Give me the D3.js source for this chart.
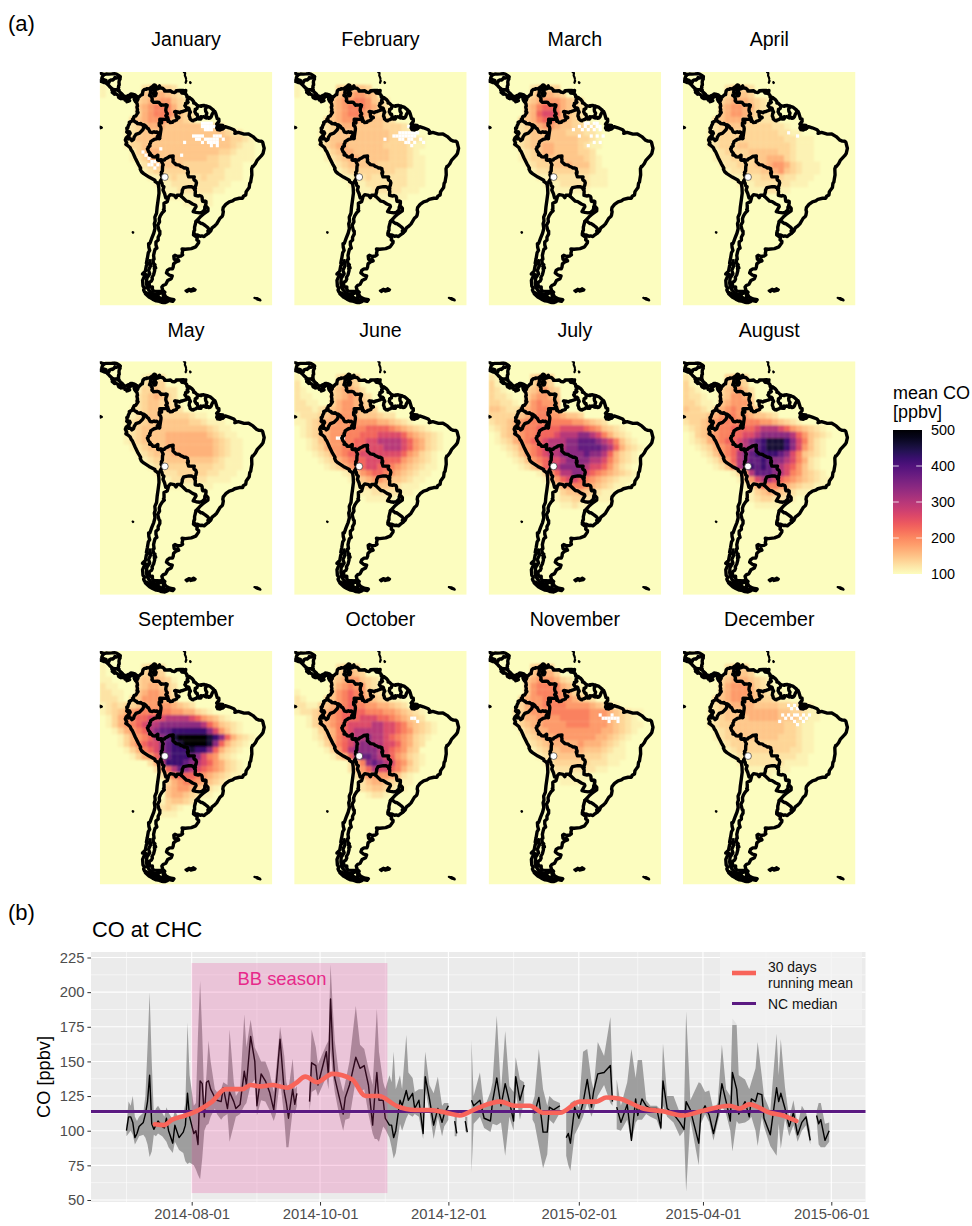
<!DOCTYPE html>
<html><head><meta charset="utf-8">
<script src="https://cdn.jsdelivr.net/npm/d3@7"></script>
<style>html,body{margin:0;padding:0;background:#fff}svg{display:block}text{font-family:"Liberation Sans",Arial,sans-serif}</style>
</head><body><div id="c"></div>
<script>
const monthNames=["January","February","March","April","May","June","July","August","September","October","November","December"];
// map grid: each char is one 2-degree cell, index into levelValues
const levelChars=".123456789abcdef";
const levelValues=[100,110,122,135,148,165,185,205,230,262,300,340,380,420,460,500];
const gridJan=["","","1......233332","1......4455432","......345566432","......4567775321","......3567776432",".....34566764432",".....2345554444443332","....12344444444444444322","....1344444444444444443321","....1334444444444444443211",".....134554444444444332111",".....123554444444433221111","......123444443333332211",".......12333333333322111","........1122322223222111",".........1112222222211","..........11122222211","...........11111111","..............11111"];
const gridFeb=["","","1......334443","1......4556654","......4566776432","......4567776532","......4567765432",".....345666544432",".....23455444443332","....1234444444443322","....134444444444333321","....134554444443333211",".....1345544444433321",".....12345544444333211","......1234444433333211",".......123333333322111","........11223222222111",".........1112222222111","..........11122222111","...........11111111"];
const gridMar=["","",".......23333",".......355543","......3456665432","......4578875432","......4589985432",".....345788654321",".....2345665443322","....123444444333221","....123444444443321","....123445544443211",".....1234554444332",".....12334444444321","......1233344544421",".......1223333333211","........112222222111",".........11122222111","..........1111111"];
const gridApr=["","",".......23332",".......33443","......345554321","......4566553211","......4566543221",".....34555432222",".....2344433333221","....1233333333332211","....123333333333322111","....123334433333332111",".....12333344444332111",".....12233334455532111","......12233344566532111",".......1223334456432111","........11222333322111",".........111222222111","..........11112211"];
const gridMay=["","",".......1222",".......2333","......1334322","......2345432","......2344332",".....123443332",".....1234433333211","....12334444444332111","....123444444444443211","....1234444555555543211","....12344445555555543211",".....1234445555555543211","......123444555555543211",".......12334444444432111","........1223333333322111",".........12223333322111","..........112222221111","...........11111111"];
const gridJun=["","","1......2333","2......3443","21....345542","211...3456532","2211..3566543","22212345665443","12223456665444322","11234556666666554321",".1234566677788887654321",".123456677788899998654321","..124566778899aaaa9865321","..1235667788999aaa9865321","...123567889999999865321","....12356788999888654321",".....1235678998876543211","........124678876543211",".........1245665443211","..........12334432111","...........112222211","............11111"];
const gridJul=["","","21.....3443","31.....3543","321...345643","3221..356654","33221.467665","443223567765","3333345677665443","23345677777777665432","12345777888899998764321",".13456778889aaabba975321",".123567889aaabbcccba97421","..12356789aaabbccccba85321","...1246789aabbbbcbba85321","....12467899abbbbaa975321",".....124689abbbba9986421","........1368aabb987654321",".........136899876543211","..........1356776543211","...........1344543211","...........1223322111","............11211"];
const gridAug=["","","21.....3443","31.....3443","321...345642","3221..346653","33211.456664","4332135676544","3333456776654432","23345677777776654321","1234567788889aaa98654321",".13456778899abbbbba864321",".123567889abcdeeedb97421","..12356789abcdeeedb96421","...124678abcddddcb974321","....12468abccdcbba97521",".....1247acdcdcba986421","........136acccba9764321",".........1369aa9876543211","..........13577765432211","...........1345543211","...........12332221","............11111"];
const gridSep=["","","1......2332","1......3443","11....3445431","211...3455432","2211..4566542","2221.34666543","1232334566665432","1234567777776655321",".1356788999aaaa9865421",".1356789aabbbbbbba864321","..135678abccddddddb96421","...135678abcefffffedb85321","...1357899bcdeffffeb85321","....135789bcdddeddb85321",".....13568acdddcb976321","........25adddcba9865321",".........258acba98765321","..........25788876543211","...........3567765432","...........456654321","...........45543211","..........134432","..........2321","..........111"];
const gridOct=["","",".......2343",".......34543","......345664321","......356766321","1.....4678764321","21...3467876543211","2211345678776655432","1223456788887776654321","..13456788899988765432","..13456789999aa998754321","...1345789aaaaa998764321","...1245789aabaa98765321","....135789abbaa9986532",".....1368abbbba987643","......1358bccba9865321",".........257bcba976421",".........2468a9987532","..........2566665421","...........245543211","...........23443211","............1221"];
const gridNov=["","",".......3443",".......45553","......456665321","......4677775421","......46777765321",".....3566777665432",".....35667777666654321","....2356667777777666543211","....135566667777766654321","....1345566667777666543211",".....13455666666666554321","......234556666666554321","......12345555565554321",".......1234455554443211","........123444443332111",".........1233333322211","..........1222222211","...........111111","............1111"];
const gridDec=["","",".......2333",".......34443","......345554321","......356665321","......45666543211",".....3456655433211",".....23455554444332211","....1234445555554433211","....1234444555554443211","....123344444444433211",".....12344444444433211",".....12334444444333211","......1233333333333211",".......123333333332211","........1222222222211",".........112222221111","..........11111111","............111"];
const monthGrids=[gridJan,gridFeb,gridMar,gridApr,gridMay,gridJun,gridJul,gridAug,gridSep,gridOct,gridNov,gridDec];
// cells without data, [lon,lat]
const naJan=[[-56,1],[-55,1],[-54,1],[-53,1],[-56,0],[-55,0],[-54,0],[-53,0],[-52,0],[-55,-1],[-54,-1],[-53,-1],[-59,-3],[-58,-3],[-57,-3],[-56,-3],[-52,-3],[-51,-3],[-50,-3],[-58,-4],[-57,-4],[-55,-4],[-54,-4],[-53,-4],[-52,-4],[-51,-4],[-49,-4],[-56,-5],[-54,-5],[-53,-5],[-52,-5],[-51,-5],[-53,-6],[-51,-6],[-70,-7],[-63,-9],[-62,-5],[-76,-8],[-75,-9],[-74,-10],[-73,-11],[-72,-11],[-74,-12],[-73,-12],[-72,-13],[-71,-12]];
const naFeb=[[-52,0],[-51,0],[-50,-1],[-55,-2],[-54,-2],[-53,-2],[-52,-2],[-51,-2],[-50,-2],[-49,-2],[-57,-3],[-56,-3],[-55,-3],[-54,-3],[-53,-3],[-52,-3],[-51,-3],[-50,-3],[-55,-4],[-54,-4],[-52,-4],[-51,-4],[-48,-4],[-53,-5],[-52,-5],[-50,-5],[-47,-5],[-51,-6],[-60,-4]];
const naMar=[[-58,1],[-57,1],[-55,1],[-54,1],[-60,0],[-58,0],[-56,0],[-54,0],[-53,0],[-62,-1],[-59,-1],[-57,-1],[-55,-1],[-53,-1],[-60,-3],[-56,-3],[-54,-3],[-52,-3],[-55,-5],[-53,-5],[-57,-6]];
const naApr=[[-55,-2],[-52,-3]];
const naMay=[];
const naJun=[[-75,-7],[-74,-7],[-76,-7]];
const naJul=[];
const naAug=[];
const naSep=[];
const naOct=[[-51,-4],[-50,-4],[-49,-5]];
const naNov=[[-52,-4],[-51,-4],[-50,-4],[-49,-4],[-48,-4],[-47,-4],[-50,-5],[-47,-5],[-53,-3],[-49,-3]];
const naDec=[[-55,0],[-53,0],[-51,0],[-54,-1],[-52,-1],[-50,-1],[-57,-3],[-55,-3],[-53,-3],[-52,-3],[-50,-3],[-48,-3],[-56,-4],[-54,-4],[-51,-4],[-49,-4],[-53,-5],[-50,-5],[-52,-6],[-58,-5]];
const monthNA=[naJan,naFeb,naMar,naApr,naMay,naJun,naJul,naAug,naSep,naOct,naNov,naDec];
const stationCHC=[-68.13,-16.35];
const brazilLine=[[-57.63,-30.22],[-56.29,-28.85],[-55.16,-27.88],[-54.49,-27.47],[-53.65,-26.92],[-53.63,-26.12],[-54.13,-25.55],[-54.63,-25.74],[-54.43,-25.16],[-54.29,-24.57],[-54.29,-24.02],[-54.65,-23.84],[-55.03,-24],[-55.4,-23.96],[-55.52,-23.57],[-55.61,-22.66],[-55.8,-22.36],[-56.47,-22.09],[-56.88,-22.28],[-57.94,-22.09],[-57.87,-20.73],[-58.17,-20.18],[-57.85,-19.97],[-57.95,-19.4],[-57.68,-18.96],[-57.5,-18.17],[-57.73,-17.55],[-58.28,-17.27],[-58.39,-16.88],[-58.24,-16.3],[-60.16,-16.26],[-60.54,-15.09],[-60.25,-15.08],[-60.26,-14.65],[-60.46,-14.35],[-60.5,-13.78],[-61.08,-13.48],[-61.71,-13.49],[-62.13,-13.2],[-62.8,-13],[-63.2,-12.63],[-64.32,-12.46],[-65.4,-11.57],[-65.32,-10.9],[-65.44,-10.51],[-65.34,-9.76],[-66.65,-9.93],[-67.17,-10.31],[-68.05,-10.71],[-68.27,-11.01],[-68.79,-11.04],[-69.53,-10.95],[-70.09,-11.12],[-70.55,-11.01],[-70.48,-9.49],[-71.3,-10.08],[-72.18,-10.05],[-72.56,-9.52],[-73.23,-9.46],[-73.02,-9.03],[-73.57,-8.42],[-73.99,-7.52],[-73.72,-7.34],[-73.72,-6.92],[-73.12,-6.63],[-73.22,-6.09],[-72.96,-5.74],[-72.89,-5.27],[-71.75,-4.59],[-70.93,-4.4],[-70.79,-4.25],[-69.89,-4.3],[-69.44,-1.56],[-69.42,-1.12],[-69.58,-0.55],[-70.02,-0.19],[-70.02,0.54],[-69.45,0.71],[-69.25,0.6],[-69.22,0.99],[-69.8,1.09],[-69.82,1.71],[-67.87,1.69],[-67.54,2.04],[-67.26,1.72],[-67.07,1.13],[-66.88,1.25],[-66.33,0.72],[-65.55,0.79],[-65.35,1.1],[-64.61,1.33],[-64.2,1.49],[-64.08,1.92],[-63.37,2.2],[-63.42,2.41],[-64.27,2.5],[-64.41,3.13],[-64.37,3.8],[-64.82,4.06],[-64.63,4.15],[-63.89,4.02],[-63.09,3.77],[-62.8,4.01],[-62.09,4.16],[-60.97,4.54],[-60.6,4.92],[-60.73,5.2],[-60.21,5.24],[-59.98,5.01],[-60.11,4.57],[-59.77,4.42],[-59.54,3.96],[-59.82,3.61],[-59.97,2.76],[-59.72,2.25],[-59.65,1.79],[-59.03,1.32],[-58.54,1.27],[-58.43,1.46],[-58.11,1.51],[-57.66,1.68],[-57.34,1.95],[-56.78,1.86],[-56.54,1.9],[-56,1.82],[-55.91,2.02],[-56.07,2.22],[-55.97,2.51],[-55.57,2.42],[-55.1,2.52],[-54.52,2.31],[-54.09,2.11],[-53.78,2.38],[-53.55,2.33],[-53.42,2.05],[-52.94,2.12],[-52.56,2.5],[-52.25,3.24],[-51.66,4.16],[-51.32,4.2],[-51.07,3.65],[-50.51,1.9],[-49.97,1.74],[-49.95,1.05],[-50.7,0.22],[-50.39,-0.08],[-48.62,-0.24],[-48.58,-1.24],[-47.82,-0.58],[-46.57,-0.94],[-44.91,-1.55],[-44.42,-2.14],[-44.58,-2.69],[-43.42,-2.38],[-41.47,-2.91],[-39.98,-2.87],[-38.5,-3.7],[-37.22,-4.82],[-36.45,-5.11],[-35.6,-5.15],[-35.24,-5.46],[-34.9,-6.74],[-34.73,-7.34],[-35.13,-9],[-35.64,-9.65],[-37.05,-11.04],[-37.68,-12.17],[-38.42,-13.04],[-38.67,-13.06],[-38.95,-13.79],[-38.88,-15.67],[-39.16,-17.21],[-39.27,-17.87],[-39.58,-18.26],[-39.76,-19.6],[-40.77,-20.9],[-40.94,-21.94],[-41.75,-22.37],[-41.99,-22.97],[-43.07,-22.97],[-44.65,-23.35],[-45.35,-23.8],[-46.47,-24.09],[-47.65,-24.89],[-48.5,-25.88],[-48.64,-26.62],[-48.47,-27.18],[-48.66,-28.19],[-48.89,-28.67],[-49.59,-29.22],[-50.7,-30.98],[-51.58,-31.78],[-52.26,-32.25],[-52.71,-33.2],[-53.37,-33.77],[-53.65,-33.2],[-53.21,-32.73],[-53.79,-32.05],[-54.57,-31.49],[-55.6,-30.85],[-55.97,-30.88],[-56.98,-30.11],[-57.63,-30.22]];
const venezuelaLine=[[-71.33,11.78],[-71.36,11.54],[-71.95,11.42],[-71.62,10.97],[-71.63,10.45],[-72.07,9.87],[-71.7,9.07],[-71.26,9.14],[-71.04,9.86],[-71.35,10.21],[-71.4,10.97],[-70.16,11.38],[-70.29,11.85],[-69.94,12.16],[-69.58,11.46],[-68.88,11.44],[-68.23,10.89],[-68.19,10.55],[-67.3,10.55],[-66.23,10.65],[-65.66,10.2],[-64.89,10.08],[-64.33,10.39],[-64.32,10.64],[-63.08,10.7],[-61.88,10.72],[-62.73,10.42],[-62.39,9.95],[-61.59,9.87],[-60.83,9.38],[-60.67,8.58],[-60.15,8.6],[-59.76,8.37],[-60.55,7.78],[-60.64,7.42],[-60.3,7.04],[-60.54,6.86],[-61.16,6.7],[-61.14,6.23],[-61.41,5.96],[-60.73,5.2]];
const colombiaLine=[[-75.37,-0.15],[-75.8,0.08],[-76.29,0.42],[-76.58,0.26],[-77.42,0.4],[-77.67,0.83],[-77.86,0.81],[-78.86,1.38],[-78.99,1.69],[-78.62,1.77],[-78.66,2.27],[-78.43,2.63],[-77.93,2.7],[-77.51,3.33],[-77.13,3.85],[-77.5,4.09],[-77.31,4.67],[-77.53,5.58],[-77.32,5.85],[-77.48,6.69],[-77.88,7.22],[-77.75,7.71],[-77.43,7.64],[-77.24,7.94],[-77.47,8.52],[-77.35,8.67],[-76.84,8.64],[-76.09,9.34],[-75.67,9.44],[-75.66,9.77],[-75.48,10.62],[-74.91,11.08],[-74.28,11.1],[-74.2,11.31],[-73.41,11.23],[-72.63,11.73],[-72.24,11.96],[-71.75,12.44],[-71.4,12.38],[-71.14,12.11],[-71.33,11.78],[-71.97,11.61],[-72.23,11.11],[-72.61,10.82],[-72.91,10.45],[-73.03,9.74],[-73.3,9.15],[-72.79,9.09],[-72.66,8.63],[-72.44,8.41],[-72.36,8],[-72.48,7.63],[-72.44,7.42],[-72.2,7.34],[-71.96,6.99],[-70.67,7.09],[-70.09,6.96],[-69.39,6.1],[-68.99,6.21],[-68.27,6.15],[-67.7,6.27],[-67.34,6.1],[-67.52,5.56],[-67.74,5.22],[-67.82,4.5],[-67.62,3.84],[-67.34,3.54],[-67.3,3.32],[-67.81,2.82],[-67.45,2.6],[-67.18,2.25],[-66.88,1.25]];
const colombiaSouthLine=[[-69.89,-4.3],[-70.39,-3.77],[-70.69,-3.74],[-70.05,-2.73],[-70.81,-2.26],[-71.41,-2.34],[-71.77,-2.17],[-72.33,-2.43],[-73.07,-2.31],[-73.66,-1.26],[-74.12,-1],[-74.44,-0.53],[-75.11,-0.06],[-75.37,-0.15]];
const ecuadorLine=[[-78.86,1.38],[-79.54,0.98],[-80.09,0.77],[-80.02,0.36],[-80.4,-0.28],[-80.58,-0.91],[-80.93,-1.06],[-80.76,-1.97],[-80.97,-2.25],[-80.37,-2.69],[-79.99,-2.22],[-79.77,-2.66],[-80.3,-3.4],[-80.18,-3.82],[-80.47,-4.06],[-80.44,-4.43],[-80.03,-4.35],[-79.62,-4.45],[-79.21,-4.96],[-78.64,-4.55],[-78.45,-3.87],[-77.84,-3],[-76.64,-2.61],[-75.54,-1.56],[-75.23,-0.91],[-75.37,-0.15]];
const peruLine=[[-80.3,-3.4],[-81.1,-4.04],[-81.41,-4.74],[-80.93,-5.69],[-81.25,-6.14],[-80.54,-6.54],[-79.76,-7.19],[-79.45,-7.93],[-79.04,-8.39],[-78.09,-10.38],[-77.11,-12.22],[-76.26,-13.54],[-76.42,-13.82],[-76.01,-14.65],[-75.24,-15.27],[-73.44,-16.36],[-71.46,-17.36],[-71.38,-17.77],[-70.37,-18.35]];
const peruBoliviaLine=[[-69.53,-10.95],[-68.67,-12.56],[-68.88,-12.9],[-68.93,-13.6],[-68.95,-14.45],[-69.34,-14.95],[-69.16,-15.32],[-69.39,-15.66],[-68.96,-16.5],[-69.59,-17.58],[-69.86,-18.09],[-70.37,-18.35]];
const boliviaSouthLine=[[-69.59,-17.58],[-69.1,-18.26],[-68.97,-18.98],[-68.44,-19.41],[-68.76,-20.37],[-68.22,-21.49],[-67.83,-22.87],[-67.11,-22.74],[-66.27,-21.83],[-64.96,-22.08],[-64.38,-22.8],[-63.99,-21.99],[-62.85,-22.03],[-62.69,-22.25],[-62.29,-21.05],[-62.27,-20.51],[-61.79,-19.63],[-60.04,-19.34],[-59.12,-19.36],[-58.18,-19.87],[-58.17,-20.18]];
const paraguayLine=[[-62.69,-22.25],[-60.85,-23.88],[-60.03,-24.03],[-58.81,-24.77],[-57.78,-25.16],[-57.63,-25.6],[-58.62,-27.12],[-57.61,-27.4],[-56.49,-27.55],[-55.7,-27.39],[-54.79,-26.62],[-54.63,-25.74]];
const argentinaEastLine=[[-57.63,-30.22],[-57.87,-31.02],[-58.14,-32.04],[-58.13,-33.04],[-58.35,-33.26],[-58.43,-33.91],[-58.5,-34.43],[-57.23,-35.29],[-57.36,-35.98],[-56.74,-36.41],[-56.79,-36.9],[-57.75,-38.18],[-59.23,-38.72],[-61.24,-38.93],[-62.34,-38.83],[-62.13,-39.42],[-62.33,-40.17],[-62.15,-40.68],[-62.75,-41.03],[-63.77,-41.17],[-64.73,-40.8],[-65.12,-41.06],[-64.98,-42.06],[-64.3,-42.36],[-63.76,-42.04],[-63.46,-42.56],[-64.38,-42.87],[-65.18,-43.5],[-65.33,-44.5],[-65.57,-45.04],[-66.51,-45.04],[-67.29,-45.55],[-67.58,-46.3],[-66.6,-47.03],[-65.64,-47.24],[-65.99,-48.13],[-67.17,-48.7],[-67.82,-49.87],[-68.73,-50.26],[-69.14,-50.73],[-68.82,-51.77],[-68.15,-52.35],[-68.57,-52.3],[-69.5,-52.14],[-71.91,-52.01],[-72.33,-51.43],[-72.31,-50.68],[-72.98,-50.74],[-73.33,-50.38],[-73.42,-49.32],[-72.65,-48.88],[-72.33,-48.24],[-72.45,-47.74],[-71.92,-46.88],[-71.55,-45.56],[-71.66,-44.97],[-71.22,-44.78],[-71.33,-44.41],[-71.79,-44.21],[-71.46,-43.79],[-71.92,-43.41],[-72.15,-42.25],[-71.75,-42.05],[-71.92,-40.83],[-71.68,-39.81],[-71.41,-38.92],[-70.81,-38.55],[-71.12,-37.58],[-71.12,-36.66],[-70.36,-36.01],[-70.39,-35.17],[-69.82,-34.19],[-69.81,-33.27],[-70.07,-33.09],[-70.54,-31.37],[-69.92,-30.34],[-70.01,-29.37],[-69.66,-28.46],[-69,-27.52],[-68.3,-26.9],[-68.59,-26.51],[-68.39,-26.19],[-68.42,-24.52],[-67.33,-24.03],[-66.99,-22.99],[-67.11,-22.74]];
const chileCoastLine=[[-69.5,-52.14],[-69.46,-52.29],[-69.94,-52.54],[-70.85,-52.9],[-71.01,-53.83],[-71.43,-53.86],[-72.56,-53.53],[-73.7,-52.84],[-74.95,-52.26],[-75.26,-51.63],[-74.98,-51.04],[-75.48,-50.38],[-75.61,-48.67],[-75.18,-47.71],[-74.13,-46.94],[-75.64,-46.65],[-74.69,-45.76],[-74.35,-44.1],[-73.7,-43.37],[-74.33,-43.22],[-74.02,-41.79],[-73.68,-39.94],[-73.22,-39.26],[-73.51,-38.28],[-73.59,-37.16],[-73.17,-37.12],[-72.55,-35.51],[-71.86,-33.91],[-71.44,-32.42],[-71.67,-30.92],[-71.37,-30.1],[-71.49,-28.86],[-70.91,-27.64],[-70.72,-25.71],[-70.4,-23.63],[-70.09,-21.39],[-70.16,-19.76],[-70.37,-18.35]];
const fjordsLine=[[-73.2,-42.5],[-72.9,-44],[-73.6,-45.5],[-73.2,-46.6],[-74.2,-48],[-74.3,-49.5],[-74.1,-50.8],[-73.4,-51.8],[-72.6,-52.6],[-71.5,-53],[-72.4,-53.2],[-70.2,-53.9],[-69.4,-54.3],[-68.9,-54.6],[-70,-54.7],[-71,-54.4]];
const fuegoLine=[[-68.63,-52.64],[-68.63,-54.87],[-67.56,-54.87],[-66.96,-54.9],[-67.29,-55.3],[-68.15,-55.61],[-68.64,-55.58],[-69.23,-55.5],[-69.96,-55.2],[-71.01,-55.05],[-72.26,-54.5],[-73.29,-53.96],[-74.66,-52.84],[-73.84,-53.05],[-72.43,-53.72],[-71.11,-54.07],[-70.59,-53.62],[-70.27,-52.93],[-69.35,-52.52],[-68.63,-52.64]];
const fuegoEastLine=[[-68.63,-54.87],[-66.96,-54.9],[-65.5,-55.2],[-65.05,-54.7],[-66.45,-54.45],[-67.75,-53.85],[-68.25,-53.1],[-68.63,-52.64]];
const uruguayLine=[[-58.43,-33.91],[-57.82,-34.46],[-57.14,-34.43],[-56.22,-34.86],[-55.67,-34.75],[-54.94,-34.95],[-54.26,-34.4],[-53.37,-33.77]];
const guyanaLine=[[-59.76,8.37],[-59.1,8],[-58.48,7.35],[-58.45,6.83],[-58.08,6.81],[-57.54,6.32],[-57.15,5.97],[-57.31,5.07],[-57.91,4.81],[-57.86,4.58],[-58.04,4.06],[-57.6,3.33],[-57.28,3.33],[-57.15,2.77],[-56.54,1.9]];
const surinameLine=[[-57.15,5.97],[-55.95,5.77],[-55.84,5.95],[-55.03,6.03],[-53.96,5.76],[-54.48,4.9],[-54.4,4.21],[-54.01,3.62],[-54.18,3.19],[-54.27,2.73],[-54.52,2.31]];
const guianaCoastLine=[[-53.96,5.76],[-53.62,5.65],[-52.88,5.41],[-51.82,4.57],[-51.66,4.16]];
const panamaLine=[[-77.35,8.67],[-77.47,8.52],[-77.24,7.94],[-77.43,7.64],[-77.75,7.71],[-77.88,7.22],[-78.21,7.51],[-78.43,8.05],[-78.18,8.32],[-78.44,8.39],[-78.62,8.72],[-79.12,9],[-79.56,8.93],[-79.76,8.58],[-80.16,8.33],[-80.48,8.09],[-80,7.55],[-80.28,7.42],[-80.89,7.22],[-81.06,7.82],[-81.19,7.65],[-81.52,7.71],[-81.72,8.11],[-82.13,8.18],[-82.82,8.29],[-82.97,8.23],[-83.51,8.45],[-83.71,8.66],[-83.6,8.83],[-83.91,9.29],[-84.65,9.62],[-84.98,10.09],[-84.91,9.8],[-85.11,9.56],[-85.34,9.83],[-85.8,10.13],[-85.66,10.75],[-85.94,10.9],[-85.71,11.09],[-86.53,11.81],[-87.17,12.46],[-87.67,12.91],[-87.56,13.06],[-88.48,13.16],[-89.26,13.46],[-90.1,13.74]];
const panamaNorthLine=[[-77.35,8.67],[-77.73,8.95],[-78.06,9.25],[-78.5,9.42],[-79.02,9.55],[-79.57,9.61],[-79.91,9.31],[-80.52,9.11],[-80.95,8.86],[-81.44,8.79],[-81.81,8.95],[-82.19,9.21],[-82.55,9.57],[-83.02,9.99],[-83.4,10.4],[-83.66,10.94],[-83.81,11.1],[-83.86,11.37],[-83.65,11.63],[-83.72,11.89],[-83.63,12.32],[-83.47,12.42],[-83.5,12.87],[-83.55,13.13],[-83.52,13.57],[-83.41,13.97],[-83.18,14.31],[-83.28,14.68],[-83.23,14.9],[-83.15,15],[-83.41,15.27],[-84.37,15.84],[-85.05,15.97],[-86,15.9],[-87.01,15.85],[-87.9,15.86],[-88.6,15.7],[-89.3,15.9],[-90.1,16.5]];
const centralBorderLine=[[-82.97,8.23],[-82.87,8.81],[-82.93,9.07],[-82.93,9.48],[-82.55,9.57]];
const costaRicaBorderLine=[[-85.71,11.09],[-84.9,10.95],[-84.36,11],[-83.9,10.73],[-83.66,10.94]];
const nicaraguaBorderLine=[[-87.32,12.98],[-86.88,13.25],[-86.76,13.75],[-86.1,14.04],[-85.7,13.96],[-85.17,14.35],[-84.92,14.79],[-84.45,14.62],[-83.98,14.75],[-83.49,15.02],[-83.15,15]];
const salvadorBorderLine=[[-87.7,13],[-87.8,13.38],[-87.9,13.9],[-88.5,14],[-89.35,14.42],[-89.1,15.1],[-88.6,15.7]];
const outlines=[brazilLine,venezuelaLine,colombiaLine,colombiaSouthLine,ecuadorLine,peruLine,peruBoliviaLine,boliviaSouthLine,paraguayLine,argentinaEastLine,chileCoastLine,fjordsLine,fuegoLine,fuegoEastLine,uruguayLine,guyanaLine,surinameLine,guianaCoastLine,panamaLine,panamaNorthLine,centralBorderLine,costaRicaBorderLine,nicaraguaBorderLine,salvadorBorderLine];
const marajoIsland=[[-50.7,-0.4],[-49.6,-0.2],[-48.6,-0.7],[-48.5,-1.4],[-49.5,-1.8],[-50.5,-1.7],[-50.9,-1],[-50.7,-0.4]];
const trinidadIsland=[[-61.68,10.76],[-61.1,10.89],[-60.9,10.86],[-61,10.1],[-61.9,10.1],[-61.68,10.76]];
const galapagosIsland=[[-90.6,-0.4],[-89.6,-0.7],[-89.3,-0.9],[-89.8,-1.1],[-90.6,-0.9],[-90.6,-0.4]];
const falklandIsland=[[-61.2,-51.85],[-60,-51.25],[-59.15,-51.5],[-58.55,-51.1],[-57.75,-51.55],[-58.05,-51.9],[-59.4,-52.2],[-59.85,-51.85],[-60.7,-52.3],[-61.2,-51.85]];
const georgiaIsland=[[-38,-54.1],[-37,-54.2],[-36.2,-54.6],[-36,-54.9],[-36.9,-54.7],[-38,-54.1]];
const fernandezIsland=[[-78.95,-33.6],[-78.75,-33.65],[-78.85,-33.75],[-78.95,-33.6]];
const antillesIsland=[[-61.7,16.4],[-61.3,16.2],[-61.4,15.4],[-61.1,14.8],[-61,14.4]];
const luciaIsland=[[-61,13.95],[-60.9,13.7],[-61.15,13.2],[-61.1,13.1]];
const barbadosIsland=[[-59.65,13.3],[-59.45,13.15],[-59.55,13.05],[-59.65,13.3]];
const islands=[marajoIsland,trinidadIsland,galapagosIsland,falklandIsland,georgiaIsland,fernandezIsland,antillesIsland,luciaIsland,barbadosIsland];

// time series (b): days after 2014-07-01
const coDays=[0,1,2,3,4,5,6,8,9,10,11,12,13,14,15,17,18,19,20,22,23,25,27,28,29,30,32,33,34,35,36,37,38,39,40,42,43,45,46,48,49,51,52,54,56,57,59,61,62,64,66,68,70,71,73,75,76,77,79,80,81,84,87,88,90,91,95,96,97,98,99,101,103,104,106,109,111,113,115,117,118,119,120,122,123,125,126,127,128,130,131,133,134,136,137,139,141,142,144,146,148,150,151,153,154,156,157,158,161,162,163,164,165,168,170,173,174,176,178,180,182,184,185,187,189,191,193,194,196,198,200,201,203,206,207,209,210,211,213,215,217,219,221,222,224,227,230,231,232,233,235,238,240,242,243,245,247,249,252,254,255,257,260,263,265,266,268,272,273,275,277,279,281,283,285,287,288,290,291,294,296,297,299,300,302,303,306,309,310,311,313,315,317,319,321,323,325,326,328,329,330,332,334];
const coMedian=[100,110,110,106,95,98,103,106,112,121,140,105,101,104,107,103,102,109,100,91,104,95,99,104,127,110,98,100,90,136,134,110,135,136,130,124,122,121,131,116,128,121,116,119,143,133,168,150,118,141,136,128,115,130,166,128,120,109,130,119,127,null,121,149,147,133,157,139,195,160,138,125,112,124,133,153,145,147,133,104,125,142,122,122,109,104,104,95,100,122,118,129,122,127,116,122,98,139,123,104,116,106,112,118,null,107,98,null,107,99,null,122,118,122,109,107,121,138,118,134,121,107,139,122,133,null,118,113,124,99,99,117,115,118,null,95,98,91,117,109,120,137,117,128,141,142,147,121,null,117,106,119,93,123,111,123,118,116,116,102,136,116,112,106,101,121,115,91,112,118,111,98,111,134,121,107,142,130,112,121,110,123,121,127,126,109,97,131,121,127,116,103,113,97,106,110,93,null,111,105,108,93,100];
const coLow=[96,98,100,97,90,93,96,97,95,90,81,85,97,96,98,96,94,92,88,84,92,86,84,78,76,77,75,72,68,65,80,100,104,105,110,116,112,108,110,112,92,104,110,112,118,120,133,137,111,122,121,115,107,112,137,109,88,88,115,112,118,null,114,128,130,125,139,130,159,140,128,112,100,108,109,137,128,130,112,98,94,94,92,103,101,95,88,80,84,105,100,109,112,110,112,110,94,130,114,94,110,96,103,108,null,96,96,null,100,98,null,70,105,110,102,99,105,104,106,82,110,100,128,108,121,null,108,105,89,73,83,108,105,113,null,82,75,71,97,103,110,120,110,115,125,133,120,118,null,101,100,108,92,106,108,108,112,110,108,100,118,110,106,96,100,56,108,75,105,112,106,93,106,118,112,100,85,107,105,106,108,110,100,89,110,103,89,82,105,87,109,96,104,92,100,104,90,null,108,90,88,88,92];
const coHigh=[104,121,118,125,110,107,110,113,125,160,200,150,112,116,118,113,110,117,113,108,115,108,112,120,178,140,118,120,170,208,170,120,140,165,150,130,128,130,135,133,173,135,125,130,184,160,180,160,157,150,150,142,128,142,175,154,135,130,152,130,132,null,132,173,160,148,162,165,220,190,165,140,128,135,150,190,162,159,145,133,160,188,157,135,130,140,135,157,130,140,130,169,142,138,128,130,130,157,133,127,139,118,120,120,null,110,110,null,110,110,null,165,125,142,116,128,135,183,128,172,132,128,153,137,135,null,120,125,159,130,118,125,122,120,null,114,115,120,122,117,157,159,136,130,164,154,182,138,null,137,118,135,159,138,151,151,122,118,118,115,163,125,125,113,115,186,122,135,134,128,129,115,120,162,130,125,181,177,140,137,130,135,145,164,139,125,114,170,140,166,131,109,122,104,118,113,100,null,114,120,120,105,106];
const meanDays=[13.5,17.8,21.7,28,34.4,40.7,47,55,59,63.7,69.3,76.4,80.3,85,90.6,97.8,107.3,113.6,120,128.3,137,144,152,158.4,166.4,177.5,184.6,191.7,198,206,215.5,223.4,228,234.5,242.4,245.5,255,264.6,273,286.7,291.5,296,305.8,312,318.4];
const meanValues=[104.6,104,108,111,115,121,130,130,133,132,133,131,134,139,135,141,137,125,125,118,115,115,113,111,116,121,118,118,113,113,121,121,124,123,118,116,114,111,114,118,116,119,113,111,107];
const ncMedian=113.9;
const bbStart="2014-08-01",bbEnd="2014-11-02",bbLow=55,bbHigh=221;
const xTickLabels=["2014-08-01","2014-10-01","2014-12-01","2015-02-01","2015-04-01","2015-06-01"];
const xMinorDates=["2014-07-01","2014-09-01","2014-11-01","2015-01-01","2015-03-01","2015-05-01"];
const yTicks=[50,75,100,125,150,175,200,225];
const yMinor=[62.5,87.5,112.5,137.5,162.5,187.5,212.5];
const legendTicks=[100,200,300,400,500];

const W=972,H=1226;
const svg=d3.select("#c").append("svg").attr("width",W).attr("height",H).attr("viewBox",`0 0 ${W} ${H}`);
const defs=svg.append("defs");
defs.append("filter").attr("id","soft").attr("x","-5%").attr("y","-5%").attr("width","110%").attr("height","110%")
 .append("feGaussianBlur").attr("stdDeviation",1.3);
const pw=172.5,ph=233.5;
const lonS=d3.scaleLinear().domain([-90,-32]).range([0,pw]);
const latS=d3.scaleLinear().domain([16.5,-56.5]).range([0,ph]);
const color=d3.scaleSequential(t=>d3.interpolateMagma(t)).domain([500,100]);
const lineGeo=d3.line().x(d=>lonS(d[0])).y(d=>latS(d[1]));
defs.append("clipPath").attr("id","pclip").append("rect").attr("width",pw).attr("height",ph);
const colX=[99.8,294.2,488.6,683],rowY=[72,361.3,651];
const titleY=[46,336.5,626];
monthNames.forEach((m,i)=>{
 const c=i%4,r=Math.floor(i/4);
 const g=svg.append("g").attr("transform",`translate(${colX[c]},${rowY[r]})`);
 svg.append("text").attr("x",colX[c]+pw/2).attr("y",titleY[r]).attr("text-anchor","middle").attr("font-size",19.6).attr("fill","#000").text(m);
 const inner=g.append("g").attr("clip-path","url(#pclip)");
 inner.append("rect").attr("width",pw).attr("height",ph).attr("fill",color(100));
 const cells=[];
 monthGrids[i].forEach((row,ri)=>{[...row].forEach((ch,ci)=>{const k=levelChars.indexOf(ch);if(k>0)cells.push({lon:-90+2*ci,lat:16.5-2*ri,v:levelValues[k]});});});
 const cg=inner.append("g").attr("filter","url(#soft)");
 cg.selectAll("rect").data(cells).join("rect")
  .attr("x",d=>lonS(d.lon)).attr("y",d=>latS(d.lat)).attr("width",lonS(-88)-lonS(-90)+.2).attr("height",latS(14.5)-latS(16.5)+.2).attr("fill",d=>color(d.v));
 inner.selectAll("rect.na").data(monthNA[i]).join("rect").attr("class","na")
  .attr("x",d=>lonS(d[0])).attr("y",d=>latS(d[1])).attr("width",lonS(-89)-lonS(-90)+.1).attr("height",latS(15.5)-latS(16.5)+.1).attr("fill","#fff");
 inner.selectAll("path.o").data(outlines).join("path").attr("class","o").attr("d",lineGeo).attr("fill","none").attr("stroke","#000").attr("stroke-width",3.4).attr("stroke-linejoin","round").attr("stroke-linecap","round");
 inner.selectAll("path.i").data(islands).join("path").attr("class","i").attr("d",lineGeo).attr("fill","#000").attr("stroke","#000").attr("stroke-width",2.2).attr("stroke-linejoin","round").attr("stroke-linecap","round");
 g.append("circle").attr("cx",lonS(stationCHC[0])).attr("cy",latS(stationCHC[1])).attr("r",3.4).attr("fill","#fff").attr("stroke","#222").attr("stroke-width",.6);
});
svg.append("text").attr("x",8).attr("y",31).attr("font-size",22).text("(a)");
svg.append("text").attr("x",8).attr("y",920).attr("font-size",22).text("(b)");

// legend colourbar
const lgX=893,lgW=29;
const lgS=d3.scaleLinear().domain([100,500]).range([574,430]);
svg.append("text").attr("x",lgX).attr("y",399).attr("font-size",18).text("mean CO");
svg.append("text").attr("x",lgX).attr("y",418).attr("font-size",18).text("[ppbv]");
const gradId="lgGrad";
const grad=defs.append("linearGradient").attr("id",gradId).attr("x1",0).attr("y1",1).attr("x2",0).attr("y2",0);
d3.range(0,1.001,.05).forEach(t=>grad.append("stop").attr("offset",t).attr("stop-color",color(100+400*t)));
svg.append("rect").attr("x",lgX).attr("y",lgS(500)).attr("width",lgW).attr("height",lgS(100)-lgS(500)).attr("fill",`url(#${gradId})`);
legendTicks.forEach(v=>{
 if(v>100&&v<500){[[lgX,lgX+5.8],[lgX+lgW-5.8,lgX+lgW]].forEach(a=>svg.append("line").attr("x1",a[0]).attr("x2",a[1]).attr("y1",lgS(v)).attr("y2",lgS(v)).attr("stroke","#fff").attr("stroke-width",.8));}
 svg.append("text").attr("x",931).attr("y",lgS(v)+5.2).attr("font-size",14.4).attr("fill","#000").text(v);
});

// panel b
const px0=91,px1=865.5,py0=952,py1=1202;
const parse=d3.utcParse("%Y-%m-%d");
const dayMs=864e5;
const t0=parse("2014-07-01");
const x=d3.scaleUtc().domain([parse("2014-08-01"),parse("2015-06-01")]).range([191.7,831.3]);
const y=d3.scaleLinear().domain([50,225]).range([1200,957.5]);
const dayDate=d=>new Date(+t0+d*dayMs);
svg.append("rect").attr("x",px0).attr("y",py0).attr("width",px1-px0).attr("height",py1-py0).attr("fill","#EBEBEB");
const gGrid=svg.append("g");
yMinor.forEach(v=>gGrid.append("line").attr("x1",px0).attr("x2",px1).attr("y1",y(v)).attr("y2",y(v)).attr("stroke","#fff").attr("stroke-width",.55));
xMinorDates.forEach(d=>gGrid.append("line").attr("x1",x(parse(d))).attr("x2",x(parse(d))).attr("y1",py0).attr("y2",py1).attr("stroke","#fff").attr("stroke-width",.55));
yTicks.forEach(v=>gGrid.append("line").attr("x1",px0).attr("x2",px1).attr("y1",y(v)).attr("y2",y(v)).attr("stroke","#fff").attr("stroke-width",1.1));
xTickLabels.forEach(d=>gGrid.append("line").attr("x1",x(parse(d))).attr("x2",x(parse(d))).attr("y1",py0).attr("y2",py1).attr("stroke","#fff").attr("stroke-width",1.1));
const pts=coDays.map((d,i)=>({d,m:coMedian[i],lo:coLow[i],hi:coHigh[i]}));
svg.append("path").datum(pts).attr("fill","#7f7f7f").attr("fill-opacity",.72)
 .attr("d",d3.area().defined(p=>p.m!==null).x(p=>x(dayDate(p.d))).y0(p=>y(p.lo)).y1(p=>y(p.hi)));
svg.append("path").datum(pts).attr("fill","none").attr("stroke","#000").attr("stroke-width",1.4).attr("stroke-linejoin","round")
 .attr("d",d3.line().defined(p=>p.m!==null).x(p=>x(dayDate(p.d))).y(p=>y(p.m)));
svg.append("rect").attr("x",x(parse(bbStart))).attr("y",y(bbHigh)).attr("width",x(parse(bbEnd))-x(parse(bbStart))).attr("height",y(bbLow)-y(bbHigh)).attr("fill","#E7298A").attr("fill-opacity",.2);
svg.append("text").attr("x",282).attr("y",985).attr("text-anchor","middle").attr("font-size",18.4).attr("fill","#E7298A").text("BB season");
// legend box
svg.append("rect").attr("x",720).attr("y",py0).attr("width",142).attr("height",73).attr("fill","#F2F2F2").attr("fill-opacity",.8);
svg.append("line").attr("x1",px0).attr("x2",px1).attr("y1",y(ncMedian)).attr("y2",y(ncMedian)).attr("stroke","#5B1A82").attr("stroke-width",3);
const mm=meanDays.map((d,i)=>[d,meanValues[i]]);
svg.append("path").datum(mm).attr("fill","none").attr("stroke","#F8645A").attr("stroke-width",4.6).attr("stroke-linecap","round").attr("stroke-linejoin","round")
 .attr("d",d3.line().curve(d3.curveMonotoneX).x(p=>x(dayDate(p[0]))).y(p=>y(p[1])));
svg.append("line").attr("x1",732).attr("x2",756).attr("y1",973).attr("y2",973).attr("stroke","#F8645A").attr("stroke-width",4.6);
svg.append("line").attr("x1",732).attr("x2",756).attr("y1",1003.5).attr("y2",1003.5).attr("stroke","#5B1A82").attr("stroke-width",3);
const lgt=[["30 days",972],["running mean",988],["NC median",1009]];
lgt.forEach(a=>svg.append("text").attr("x",768).attr("y",a[1]).attr("font-size",13.9).attr("fill","#111").text(a[0]));
// axes
const ax=svg.append("g").attr("transform",`translate(0,${py1})`).call(d3.axisBottom(x).tickValues(xTickLabels.map(parse)).tickFormat(d3.utcFormat("%Y-%m-%d")).tickSize(3.6).tickPadding(3));
const ay=svg.append("g").attr("transform",`translate(${px0},0)`).call(d3.axisLeft(y).tickValues(yTicks).tickSize(3.6).tickPadding(3));
[ax,ay].forEach(a=>{a.select(".domain").remove();a.selectAll("line").attr("stroke","#333").attr("stroke-width",1);a.selectAll("text").attr("fill","#4D4D4D").attr("font-size",14.8).attr("font-family",'"Liberation Sans",Arial,sans-serif');});
svg.append("text").attr("transform","translate(50,1077) rotate(-90)").attr("text-anchor","middle").attr("font-size",18.2).text("CO [ppbv]");
svg.append("text").attr("x",92).attr("y",937).attr("font-size",21.8).text("CO at CHC");
</script></body></html>
